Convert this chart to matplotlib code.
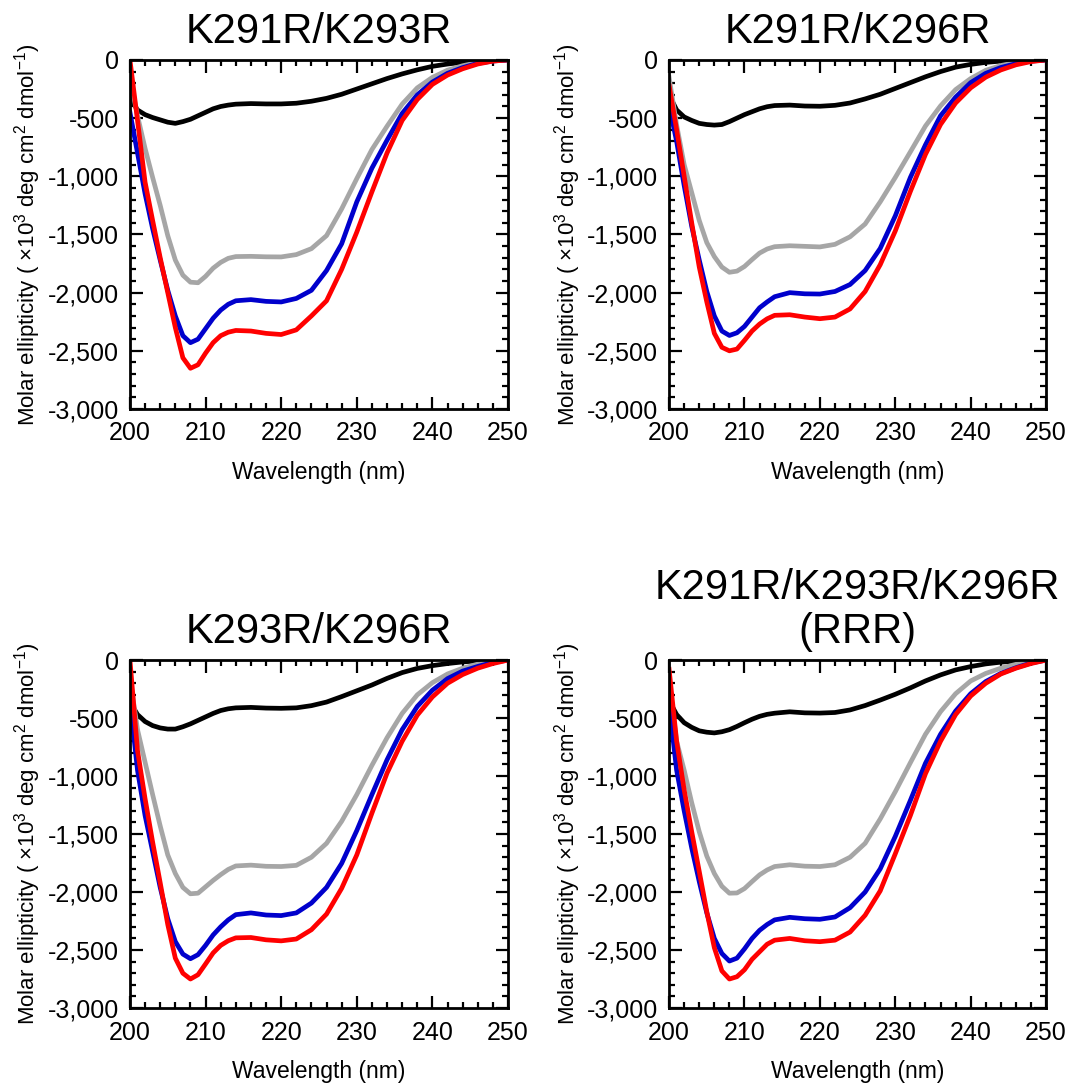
import matplotlib
matplotlib.use("Agg")
import matplotlib.pyplot as plt
from matplotlib.ticker import MultipleLocator, FuncFormatter

plt.rcParams["font.family"] = ["Liberation Sans", "DejaVu Sans"]
plt.rcParams["mathtext.fontset"] = "custom"
plt.rcParams["mathtext.rm"] = "Liberation Sans"
plt.rcParams["mathtext.it"] = "Liberation Sans"
plt.rcParams["mathtext.default"] = "regular"

# wavelength grid (nm)
wavelength = [200, 201, 202, 203, 204, 205, 206, 207, 208, 209, 210, 211, 212, 213, 214,
              216, 218, 220, 222, 224, 226, 228, 230, 232, 234, 236, 238, 240, 242, 244,
              246, 248, 250]

titles = ["K291R/K293R", "K291R/K296R", "K293R/K296R", "K291R/K293R/K296R\n(RRR)"]

# K291R/K293R
black_1 = [-330, -430, -470, -495, -515, -535, -545, -530, -510, -480, -450, -420, -400,
           -388, -380, -375, -378, -378, -372, -355, -330, -295, -250, -205, -160, -120,
           -85, -55, -35, -20, -10, -4, 0]
gray_1 = [-150, -480, -760, -1010, -1250, -1510, -1720, -1850, -1910, -1915, -1860, -1790,
          -1740, -1705, -1690, -1688, -1692, -1693, -1673, -1622, -1510, -1280, -1020,
          -770, -570, -380, -240, -150, -88, -50, -22, -7, 0]
blue_1 = [-450, -800, -1150, -1450, -1720, -1980, -2200, -2370, -2430, -2400, -2310, -2220,
          -2150, -2100, -2070, -2060, -2075, -2080, -2050, -1980, -1810, -1580, -1220,
          -930, -690, -460, -300, -190, -115, -66, -29, -9, 0]
red_1 = [0, -520, -1050, -1380, -1700, -2000, -2300, -2560, -2650, -2620, -2520, -2430,
         -2370, -2340, -2325, -2330, -2350, -2360, -2320, -2200, -2070, -1800, -1480,
         -1134, -800, -520, -340, -210, -130, -76, -35, -10, 0]

# K291R/K296R
black_2 = [-300, -430, -490, -520, -545, -555, -560, -555, -530, -500, -470, -445, -420,
           -402, -392, -388, -396, -398, -390, -370, -335, -295, -245, -195, -145, -100,
           -62, -38, -21, -10, -5, -2, 0]
gray_2 = [-150, -560, -900, -1140, -1380, -1570, -1690, -1780, -1825, -1815, -1775, -1716,
          -1660, -1625, -1605, -1597, -1602, -1607, -1585, -1520, -1410, -1220, -1010,
          -790, -568, -395, -255, -160, -89, -48, -22, -8, 0]
blue_2 = [-390, -700, -1080, -1430, -1720, -1990, -2200, -2330, -2368, -2345, -2290, -2210,
          -2130, -2080, -2035, -2000, -2010, -2012, -1990, -1930, -1810, -1620, -1340,
          -1010, -730, -480, -320, -195, -115, -65, -32, -10, 0]
red_2 = [-220, -600, -1000, -1400, -1780, -2080, -2350, -2470, -2500, -2485, -2410, -2330,
         -2270, -2225, -2195, -2190, -2210, -2224, -2210, -2140, -1990, -1760, -1470,
         -1130, -812, -555, -370, -240, -148, -86, -42, -14, 0]

# K293R/K296R
black_3 = [-360, -470, -530, -565, -585, -595, -595, -575, -550, -520, -490, -460, -435,
           -420, -412, -408, -414, -416, -412, -393, -362, -315, -265, -215, -158, -108,
           -72, -48, -30, -16, -7, -3, 0]
gray_3 = [-150, -600, -880, -1160, -1430, -1680, -1840, -1960, -2015, -2010, -1955, -1900,
          -1850, -1805, -1775, -1768, -1778, -1780, -1770, -1700, -1580, -1390, -1160,
          -908, -670, -460, -300, -195, -120, -70, -35, -12, 0]
blue_3 = [-350, -950, -1340, -1650, -1960, -2230, -2427, -2535, -2575, -2540, -2460, -2370,
          -2300, -2240, -2195, -2180, -2198, -2203, -2180, -2095, -1960, -1753, -1470,
          -1160, -860, -600, -400, -260, -160, -95, -55, -20, 0]
red_3 = [0, -780, -1195, -1570, -1920, -2280, -2570, -2700, -2750, -2713, -2620, -2525,
         -2460, -2420, -2395, -2392, -2412, -2421, -2405, -2325, -2190, -1968, -1680,
         -1320, -975, -700, -475, -318, -200, -125, -70, -30, 0]

# K291R/K293R/K296R (RRR)
black_4 = [-350, -470, -540, -580, -610, -622, -628, -618, -600, -572, -540, -510, -485,
           -468, -458, -446, -455, -457, -452, -430, -392, -345, -295, -240, -180, -128,
           -85, -56, -33, -18, -9, -3, 0]
gray_4 = [-200, -700, -950, -1230, -1480, -1690, -1840, -1950, -2010, -2008, -1970, -1910,
          -1852, -1810, -1780, -1765, -1777, -1780, -1765, -1700, -1580, -1370, -1135,
          -885, -640, -445, -290, -180, -115, -70, -37, -13, 0]
blue_4 = [-380, -950, -1300, -1620, -1910, -2180, -2400, -2530, -2595, -2570, -2490, -2400,
          -2330, -2280, -2240, -2218, -2230, -2235, -2215, -2135, -2000, -1800, -1520,
          -1210, -890, -640, -440, -290, -185, -115, -66, -25, 0]
red_4 = [-80, -700, -1120, -1480, -1823, -2170, -2480, -2680, -2750, -2730, -2670, -2580,
         -2515, -2450, -2415, -2400, -2420, -2428, -2415, -2345, -2200, -1990, -1670,
         -1340, -980, -700, -470, -310, -200, -120, -70, -30, 0]

panels = [
    (black_1, gray_1, blue_1, red_1),
    (black_2, gray_2, blue_2, red_2),
    (black_3, gray_3, blue_3, red_3),
    (black_4, gray_4, blue_4, red_4),
]
colors = ["black", "#a6a6a6", "#0000cc", "#ff0000"]

fig = plt.figure(figsize=(10.74, 10.86), dpi=100)
positions = [
    [0.121, 0.6234, 0.352, 0.3214],
    [0.623, 0.6234, 0.351, 0.3214],
    [0.121, 0.0718, 0.352, 0.3204],
    [0.623, 0.0718, 0.351, 0.3204],
]

ylabel = r"Molar ellipticity ( $\times$10$^3$ deg cm$^2$ dmol$^{-1}$)"

for pos, title, series in zip(positions, titles, panels):
    ax = fig.add_axes(pos)
    for vals, c in zip(series, colors):
        ax.plot(wavelength, vals, color=c, lw=3.4, solid_joinstyle="round")
    ax.set_xlim(200, 250)
    ax.set_ylim(-3000, 0)
    ax.xaxis.set_major_locator(MultipleLocator(10))
    ax.xaxis.set_minor_locator(MultipleLocator(2))
    ax.yaxis.set_major_locator(MultipleLocator(500))
    ax.yaxis.set_minor_locator(MultipleLocator(100))
    ax.yaxis.set_major_formatter(FuncFormatter(lambda v, p: f"{v:,.0f}"))
    ax.tick_params(which="both", direction="in", top=True, right=True,
                   width=1.6, labelsize=18)
    ax.tick_params(axis="x", which="major", pad=9)
    ax.tick_params(axis="y", which="major", pad=8)
    ax.tick_params(which="major", length=9)
    ax.tick_params(which="minor", length=4)
    for s in ax.spines.values():
        s.set_linewidth(2)
    ax.set_xlabel("Wavelength (nm)", fontsize=16.5, labelpad=11)
    ax.set_ylabel(ylabel, fontsize=16, labelpad=3)
    ax.set_title(title, fontsize=30, pad=12, linespacing=1.15)

fig.savefig("out.png", dpi=100)
